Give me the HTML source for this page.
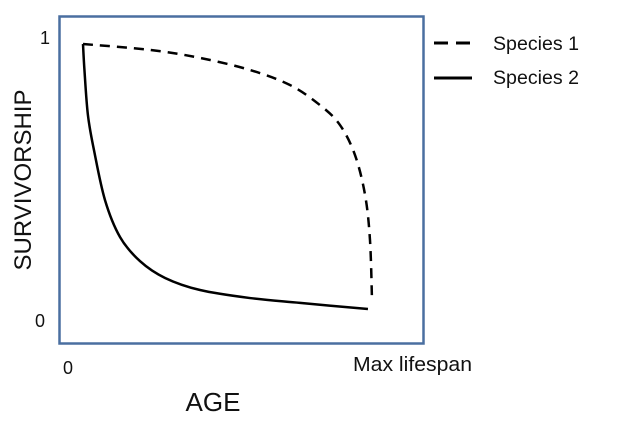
<!DOCTYPE html>
<html><head><meta charset="utf-8"><style>
html,body{margin:0;padding:0;background:#fff;}
svg{display:block;font-family:"Liberation Sans",sans-serif;}
</style></head><body>
<svg id="chart" width="633" height="423">
<rect x="59.5" y="16.5" width="364" height="327" fill="none" stroke="#4a6fa0" stroke-width="2.5"/>
<text x="40" y="44" font-size="18" fill="#111">1</text>
<text x="35" y="327" font-size="18" fill="#111">0</text>
<text x="63" y="374" font-size="18" fill="#111">0</text>
<text x="353" y="371" font-size="20" fill="#111" textLength="119" lengthAdjust="spacingAndGlyphs">Max lifespan</text>
<text x="213" y="411" font-size="26" text-anchor="middle" fill="#111">AGE</text>
<text transform="translate(31,180) rotate(-90)" font-size="24" text-anchor="middle" fill="#111">SURVIVORSHIP</text>
<g>
<line x1="434" y1="43" x2="477" y2="43" stroke="#000" stroke-width="3" stroke-dasharray="14,8"/>
<text x="493" y="50" font-size="19" fill="#111" textLength="86" lengthAdjust="spacingAndGlyphs">Species 1</text>
<line x1="434" y1="78" x2="472" y2="78" stroke="#000" stroke-width="3"/>
<text x="493" y="84" font-size="19" fill="#111" textLength="86" lengthAdjust="spacingAndGlyphs">Species 2</text>
</g>
<g id="series"></g>
</svg>
<script>
const species1Age=[0,0.232,0.405,0.578,0.716,0.82,0.889,0.941,0.976,0.993,1];
const species1Surv=[1,0.978,0.948,0.903,0.847,0.772,0.698,0.586,0.437,0.269,0.045];
const species2Age=[0,0.005,0.017,0.038,0.076,0.128,0.197,0.284,0.405,0.578,0.751,0.986];
const species2Surv=[1,0.903,0.735,0.604,0.418,0.280,0.190,0.127,0.082,0.052,0.034,0.011];
function xs(a){return 83+a*289;}
function ys(s){return 312-s*268;}
function pathFrom(ax,sv){
  const p=ax.map((a,i)=>[xs(a),ys(sv[i])]);
  let d="M"+p[0][0]+","+p[0][1];
  for(let i=0;i<p.length-1;i++){
    const p0=p[i-1]||p[i],p1=p[i],p2=p[i+1],p3=p[i+2]||p2;
    const c1=[p1[0]+(p2[0]-p0[0])/6,p1[1]+(p2[1]-p0[1])/6];
    const c2=[p2[0]-(p3[0]-p1[0])/6,p2[1]-(p3[1]-p1[1])/6];
    d+=" C"+c1+" "+c2+" "+p2;
  }
  return d;
}
const g=document.getElementById('series');
const ns="http://www.w3.org/2000/svg";
const l1=document.createElementNS(ns,'path');
l1.setAttribute('d',pathFrom(species1Age,species1Surv));
l1.setAttribute('fill','none');l1.setAttribute('stroke','#000');
l1.setAttribute('stroke-width','2.5');l1.setAttribute('stroke-dasharray','10,7');


g.appendChild(l1);
const l2=document.createElementNS(ns,'path');
l2.setAttribute('d',pathFrom(species2Age,species2Surv));
l2.setAttribute('fill','none');l2.setAttribute('stroke','#000');
l2.setAttribute('stroke-width','2.5');


g.appendChild(l2);
</script>
</body></html>
